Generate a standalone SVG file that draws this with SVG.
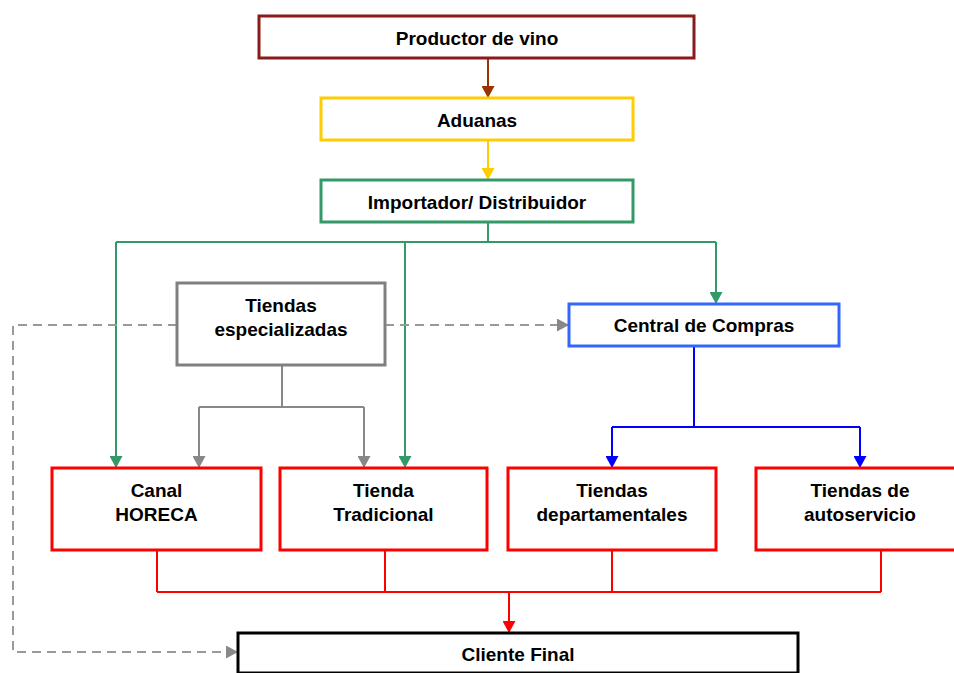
<svg xmlns="http://www.w3.org/2000/svg" width="954" height="673" viewBox="0 0 954 673">
<style>
  .box{fill:#fff;stroke-width:3}
  .t{font-family:"Liberation Sans",Arial,sans-serif;font-weight:bold;font-size:19px;fill:#000;text-anchor:middle}
  .c{fill:none;stroke-width:2}
  .dash{fill:none;stroke:#999;stroke-width:2;stroke-dasharray:9 6}
</style>
<defs>
  <marker id="aBrown" markerUnits="userSpaceOnUse" markerWidth="12" markerHeight="13" refX="12" refY="6.5" orient="auto"><path d="M0,0 L12,6.5 L0,13 z" fill="#993300"/></marker>
  <marker id="aYellow" markerUnits="userSpaceOnUse" markerWidth="12" markerHeight="13" refX="12" refY="6.5" orient="auto"><path d="M0,0 L12,6.5 L0,13 z" fill="#FFCC00"/></marker>
  <marker id="aGreen" markerUnits="userSpaceOnUse" markerWidth="12" markerHeight="13" refX="12" refY="6.5" orient="auto"><path d="M0,0 L12,6.5 L0,13 z" fill="#339966"/></marker>
  <marker id="aGray" markerUnits="userSpaceOnUse" markerWidth="12" markerHeight="13" refX="12" refY="6.5" orient="auto"><path d="M0,0 L12,6.5 L0,13 z" fill="#888"/></marker>
  <marker id="aBlue" markerUnits="userSpaceOnUse" markerWidth="12" markerHeight="13" refX="12" refY="6.5" orient="auto"><path d="M0,0 L12,6.5 L0,13 z" fill="#0000FF"/></marker>
  <marker id="aRed" markerUnits="userSpaceOnUse" markerWidth="12" markerHeight="13" refX="12" refY="6.5" orient="auto"><path d="M0,0 L12,6.5 L0,13 z" fill="#FF0000"/></marker>
</defs>
<rect width="954" height="673" fill="#fff"/>
<g id="connectors">
  <path class="c" stroke="#993300" d="M488,58 V98" marker-end="url(#aBrown)"/>
  <path class="c" stroke="#FFCC00" d="M488,140 V180" marker-end="url(#aYellow)"/>
  <path class="c" stroke="#339966" d="M488,222 V242 M116,242 H716"/>
  <path class="c" stroke="#339966" d="M116,242 V468" marker-end="url(#aGreen)"/>
  <path class="c" stroke="#339966" d="M405,242 V468" marker-end="url(#aGreen)"/>
  <path class="c" stroke="#339966" d="M716,242 V304" marker-end="url(#aGreen)"/>
  <path class="c" stroke="#888" d="M282,365 V407 M199,407 H364"/>
  <path class="c" stroke="#888" d="M199,407 V468" marker-end="url(#aGray)"/>
  <path class="c" stroke="#888" d="M364,407 V468" marker-end="url(#aGray)"/>
  <path class="c" stroke="#0000FF" d="M694,346 V427 M612,427 H860"/>
  <path class="c" stroke="#0000FF" d="M612,427 V468" marker-end="url(#aBlue)"/>
  <path class="c" stroke="#0000FF" d="M860,427 V468" marker-end="url(#aBlue)"/>
  <path class="c" stroke="#FF0000" d="M157,550 V592 M385,550 V592 M612,550 V592 M881,550 V592 M157,592 H881"/>
  <path class="c" stroke="#FF0000" d="M509,592 V633" marker-end="url(#aRed)"/>
  <path class="dash" d="M177,325 H13 V652 H238" marker-end="url(#aGray)"/>
  <path class="dash" d="M385,325 H569" marker-end="url(#aGray)"/>
</g>
<g id="productor"><rect class="box" x="259" y="16" width="435" height="42" stroke="#8B1A1A"/><text class="t" x="477" y="45">Productor de vino</text></g>
<g id="aduanas"><rect class="box" x="321" y="98" width="312" height="42" stroke="#FFCC00"/><text class="t" x="477" y="127">Aduanas</text></g>
<g id="importador"><rect class="box" x="321" y="180" width="312" height="42" stroke="#339966"/><text class="t" x="477" y="209">Importador/ Distribuidor</text></g>
<g id="especializadas"><rect class="box" x="177" y="283" width="208" height="82" stroke="#808080"/><text class="t" x="281" y="312">Tiendas</text><text class="t" x="281" y="336">especializadas</text></g>
<g id="central"><rect class="box" x="569" y="304" width="270" height="42" stroke="#3366FF"/><text class="t" x="704" y="332">Central de Compras</text></g>
<g id="horeca"><rect class="box" x="52" y="468" width="209" height="82" stroke="#FF0000"/><text class="t" x="156.5" y="497">Canal</text><text class="t" x="156.5" y="521">HORECA</text></g>
<g id="tradicional"><rect class="box" x="280" y="468" width="207" height="82" stroke="#FF0000"/><text class="t" x="383.5" y="497">Tienda</text><text class="t" x="383.5" y="521">Tradicional</text></g>
<g id="departamentales"><rect class="box" x="508" y="468" width="208" height="82" stroke="#FF0000"/><text class="t" x="612" y="497">Tiendas</text><text class="t" x="612" y="521">departamentales</text></g>
<g id="autoservicio"><rect class="box" x="756" y="468" width="208" height="82" stroke="#FF0000"/><text class="t" x="860" y="497">Tiendas de</text><text class="t" x="860" y="521">autoservicio</text></g>
<g id="cliente"><rect class="box" x="238" y="633" width="560" height="40" stroke="#000"/><text class="t" x="518" y="661">Cliente Final</text></g>
</svg>
